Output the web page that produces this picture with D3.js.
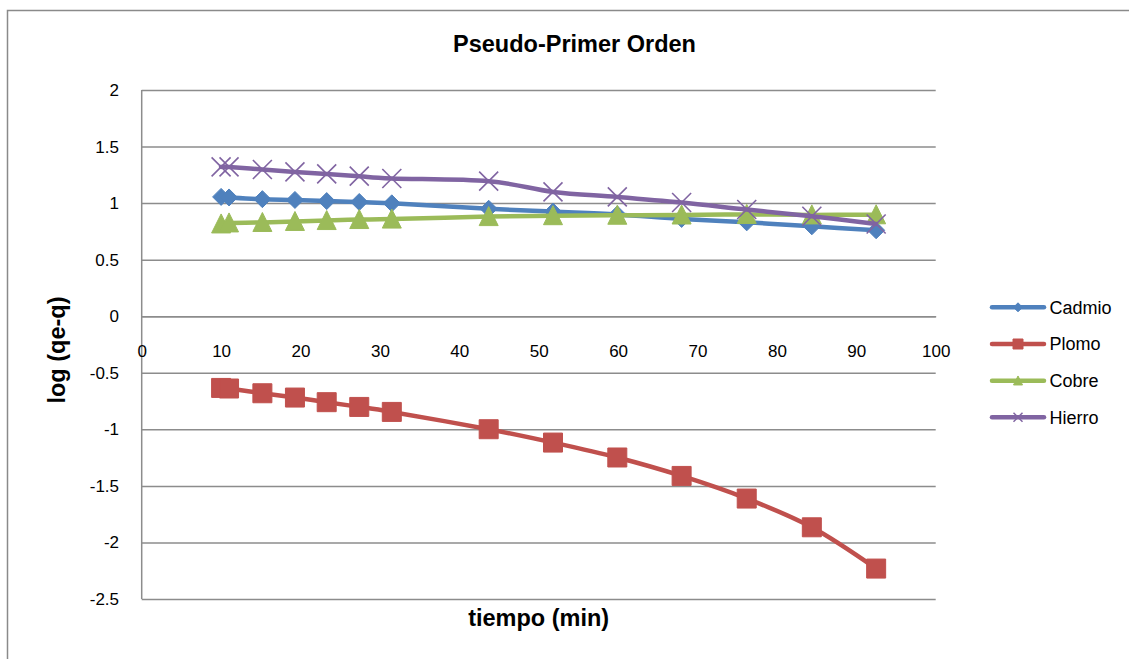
<!DOCTYPE html>
<html>
<head>
<meta charset="utf-8">
<script src="https://cdn.jsdelivr.net/npm/d3@7"></script>
<style>
  html, body { margin: 0; padding: 0; background: #fff; }
  svg { display: block; font-family: "Liberation Sans", Arial, sans-serif; }
</style>
</head>
<body>
<svg id="chart" width="1129" height="659"></svg>
<script>
// Tiempo de contacto (min)
const tiempo = [10, 11, 15.2, 19.3, 23.3, 27.4, 31.5, 43.7, 51.8, 59.9, 68, 76.2, 84.4, 92.5];

// log (qe-q) por metal
const cadmio = [1.055, 1.05, 1.035, 1.028, 1.018, 1.01, 0.998, 0.95, 0.925, 0.9, 0.86, 0.83, 0.795, 0.76];
const plomo  = [-0.634, -0.639, -0.681, -0.719, -0.76, -0.802, -0.846, -0.999, -1.117, -1.249, -1.412, -1.612, -1.866, -2.231];
const cobre  = [0.816, 0.825, 0.829, 0.838, 0.846, 0.855, 0.859, 0.881, 0.889, 0.893, 0.895, 0.9, 0.896, 0.897];
const hierro = [1.32, 1.32, 1.297, 1.276, 1.258, 1.238, 1.218, 1.194, 1.099, 1.055, 1.005, 0.943, 0.884, 0.815];

const seriesNames = ["Cadmio", "Plomo", "Cobre", "Hierro"];
const xTicks = [0, 10, 20, 30, 40, 50, 60, 70, 80, 90, 100];
const yTicks = [2, 1.5, 1, 0.5, 0, -0.5, -1, -1.5, -2, -2.5];

const series = [
  { name: seriesNames[0], values: cadmio, color: "#4F81BD", marker: "diamond" },
  { name: seriesNames[1], values: plomo,  color: "#C0504D", marker: "square" },
  { name: seriesNames[2], values: cobre,  color: "#9BBB59", marker: "triangle" },
  { name: seriesNames[3], values: hierro, color: "#8064A2", marker: "x" }
];

const svg = d3.select("#chart");
const plot = { left: 141.7, right: 935.7, top: 90, bottom: 599 };

const x = d3.scaleLinear().domain([0, 100]).range([plot.left, plot.right]);
const y = d3.scaleLinear().domain([-2.5, 2]).range([plot.bottom, plot.top]);

// Outer chart frame
svg.append("rect")
  .attr("x", 7.5).attr("y", 10.5)
  .attr("width", 1140).attr("height", 670)
  .attr("fill", "none").attr("stroke", "#8a8a8a").attr("stroke-width", 1.5);

// Horizontal gridlines + y tick labels
const yAxis = d3.axisLeft(y)
  .tickValues(yTicks)
  .tickFormat(d => String(d))
  .tickSizeInner(-(plot.right - plot.left))
  .tickSizeOuter(0)
  .tickPadding(22.7);

const gy = svg.append("g")
  .attr("transform", `translate(${plot.left},0)`)
  .call(yAxis);
gy.select(".domain").remove();
gy.selectAll(".tick line").attr("stroke", "#8c8c8c").attr("stroke-width", 1.5);
gy.selectAll(".tick text")
  .attr("fill", "#000")
  .style("font-size", "17px")
  .style("font-family", "'Liberation Sans', Arial, sans-serif");

// Vertical axis line
svg.append("line")
  .attr("x1", plot.left).attr("x2", plot.left)
  .attr("y1", plot.top).attr("y2", plot.bottom)
  .attr("stroke", "#8c8c8c").attr("stroke-width", 1.5);

// X axis crossing at zero
const xAxis = d3.axisBottom(x)
  .tickValues(xTicks)
  .tickFormat(d => String(d))
  .tickSize(0)
  .tickPadding(28.6);

const gx = svg.append("g")
  .attr("transform", `translate(0,${y(0)})`)
  .call(xAxis);
gx.select(".domain").attr("stroke", "#8c8c8c").attr("stroke-width", 1.5);
gx.selectAll(".tick text")
  .attr("fill", "#000")
  .style("font-size", "17px")
  .style("font-family", "'Liberation Sans', Arial, sans-serif");

// Titles
svg.append("text")
  .attr("x", 574.5).attr("y", 52)
  .attr("text-anchor", "middle")
  .style("font-size", "23.5px").style("font-weight", "bold")
  .text("Pseudo-Primer Orden");

svg.append("text")
  .attr("x", 538.7).attr("y", 625.5)
  .attr("text-anchor", "middle")
  .style("font-size", "23.5px").style("font-weight", "bold")
  .text("tiempo (min)");

svg.append("text")
  .attr("transform", "translate(65,350) rotate(-90)")
  .attr("text-anchor", "middle")
  .style("font-size", "23.5px").style("font-weight", "bold")
  .text("log (qe-q)");

// Marker shapes
function markerPath(type, s) {
  const h = s / 2;
  switch (type) {
    case "diamond": return `M0,${-h}L${h},0L0,${h}L${-h},0Z`;
    case "square": return `M${-h},${-h}H${h}V${h}H${-h}Z`;
    case "triangle": return `M0,${-h * 1.05}L${h},${h * 0.95}L${-h},${h * 0.95}Z`;
    case "x": return `M${-h},${-h}L${h},${h}M${h},${-h}L${-h},${h}`;
  }
}
const markerSize = { diamond: 17, square: 19, triangle: 19, x: 19 };

const line = d3.line()
  .x(d => x(d[0]))
  .y(d => y(d[1]))
  .curve(d3.curveCardinal.tension(0));

series.forEach(s => {
  const pts = tiempo.map((t, i) => [t, s.values[i]]);
  const g = svg.append("g");
  g.append("path")
    .datum(pts)
    .attr("d", line)
    .attr("fill", "none")
    .attr("stroke", s.color)
    .attr("stroke-width", 4.5)
    .attr("stroke-linejoin", "round")
    .attr("stroke-linecap", "round");
  g.selectAll("path.mk")
    .data(pts)
    .join("path")
    .attr("class", "mk")
    .attr("transform", d => `translate(${x(d[0])},${y(d[1])})`)
    .attr("d", markerPath(s.marker, markerSize[s.marker]))
    .attr("fill", s.marker === "x" ? "none" : s.color)
    .attr("stroke", s.color)
    .attr("stroke-width", s.marker === "x" ? 1.6 : 1);
});

// Legend
const legendY = [307.3, 344, 380.7, 417.3];
const legend = svg.append("g");
series.forEach((s, i) => {
  const g = legend.append("g").attr("transform", `translate(0,${legendY[i]})`);
  g.append("line")
    .attr("x1", 992).attr("x2", 1044)
    .attr("stroke", s.color).attr("stroke-width", 4.5)
    .attr("stroke-linecap", "round");
  const ms = s.marker === "square" ? 10 : 9;
  g.append("path")
    .attr("transform", "translate(1018,0)")
    .attr("d", markerPath(s.marker, ms))
    .attr("fill", s.marker === "x" ? "none" : s.color)
    .attr("stroke", s.color)
    .attr("stroke-width", s.marker === "x" ? 1.5 : 1);
  g.append("text")
    .attr("x", 1049.5).attr("y", 0)
    .attr("dy", "0.36em")
    .style("font-size", "18px")
    .text(s.name);
});
</script>
</body>
</html>
